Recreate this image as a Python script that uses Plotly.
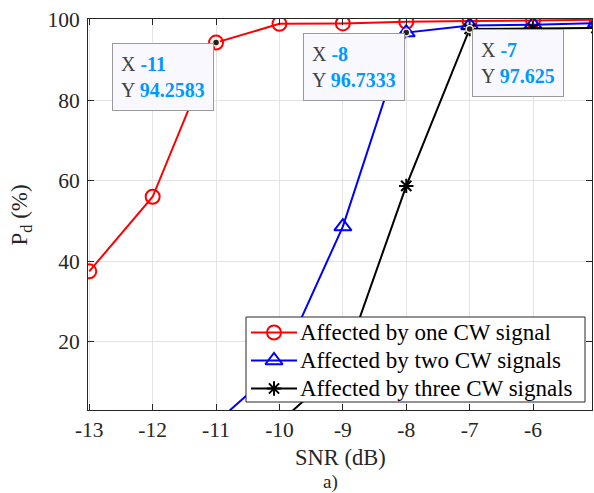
import plotly.graph_objects as go

# SNR sweep (dB) and detection probability (%) for each interference case
snr_db = [-13, -12, -11, -10, -9, -8, -7, -6, -5]
pd_one_cw = [37.5, 56.0, 94.2583, 98.9, 99.0, 99.4, 99.6, 99.7, 99.9]
pd_two_cw = [0.0, 0.0, 0.0, 13.9, 48.6, 96.7333, 98.5, 98.7, 99.1]
pd_three_cw = [0.0, 0.0, 0.0, 0.0, 14.1, 58.7, 97.625, 97.8, 97.9]

series_names = [
    "Affected by one CW signal",
    "Affected by two CW signals",
    "Affected by three CW signals",
]

x_tick_vals = [-13, -12, -11, -10, -9, -8, -7, -6]
x_tick_text = ["-13", "-12", "-11", "-10", "-9", "-8", "-7", "-6"]
y_tick_vals = [20, 40, 60, 80, 100]
y_tick_text = ["20", "40", "60", "80", "100"]

# Data tips: (series values, SNR at which the tip is pinned)
tips = [(pd_one_cw, -11), (pd_two_cw, -8), (pd_three_cw, -7)]

FONT = "Liberation Serif, Times New Roman, serif"
TIP_BLUE = "#0099FF"
TEXT = "#262626"

W, H = 594, 493
M_L, M_R, M_T, M_B = 88, 2, 19, 83
PLOT_H = H - M_T - M_B


def paper_y(px):
    """Convert a page pixel row to a paper y coordinate."""
    return (H - M_B - px) / PLOT_H


fig = go.Figure()

styles = [
    dict(color="#FF0000", symbol="circle-open", size=14),
    dict(color="#0000FF", symbol="triangle-up-open", size=15),
    dict(color="#000000", symbol="asterisk-open", size=12),
]
for name, vals, st in zip(series_names, [pd_one_cw, pd_two_cw, pd_three_cw], styles):
    fig.add_trace(go.Scatter(
        x=snr_db, y=vals, name=name, mode="lines+markers",
        line=dict(color=st["color"], width=2),
        marker=dict(symbol=st["symbol"], size=st["size"], color=st["color"],
                    line=dict(color=st["color"], width=2)),
        showlegend=False,
    ))

# Small dots marking the pinned data tips
tip_x = [sx for _, sx in tips]
tip_y = [vals[snr_db.index(sx)] for vals, sx in tips]
fig.add_trace(go.Scatter(
    x=tip_x, y=tip_y, mode="markers", showlegend=False, hoverinfo="skip",
    marker=dict(symbol="circle", size=7, color="#222222",
                line=dict(color="#F5F0D0", width=1.5)),
))

# ---- Legend box, drawn on a pixel-based overlay axis pair (x2/y2) ----
LEG_L, LEG_R, LEG_T, LEG_B = 246, 585, 317, 402
LEG_ROWS = [332.5, 360.5, 388.5]
LEG_LINE = (251, 297)
LEG_TEXT_X = 298

fig.add_trace(go.Scatter(
    x=[LEG_L, LEG_R, LEG_R, LEG_L, LEG_L], y=[LEG_T, LEG_T, LEG_B, LEG_B, LEG_T],
    xaxis="x2", yaxis="y2", mode="lines", fill="toself", fillcolor="white",
    line=dict(color=TEXT, width=1), showlegend=False, hoverinfo="skip",
))
for name, st, ry in zip(series_names, styles, LEG_ROWS):
    fig.add_trace(go.Scatter(
        x=[LEG_LINE[0], LEG_LINE[1]], y=[ry, ry], xaxis="x2", yaxis="y2",
        mode="lines", line=dict(color=st["color"], width=2),
        showlegend=False, hoverinfo="skip",
    ))
    fig.add_trace(go.Scatter(
        x=[(LEG_LINE[0] + LEG_LINE[1]) / 2], y=[ry], xaxis="x2", yaxis="y2",
        mode="markers",
        marker=dict(symbol=st["symbol"], size=st["size"], color=st["color"],
                    line=dict(color=st["color"], width=2)),
        showlegend=False, hoverinfo="skip",
    ))
    fig.add_annotation(
        x=LEG_TEXT_X, y=ry, xref="x2", yref="y2", text=name, showarrow=False,
        xanchor="left", yanchor="middle",
        font=dict(family=FONT, size=23, color="#000000"),
    )

# ---- Data tips ----
tip_layout = [
    dict(xanchor="right", yanchor="top", xshift=-2, yshift=0),
    dict(xanchor="right", yanchor="top", xshift=-1, yshift=0),
    dict(xanchor="left", yanchor="top", xshift=2, yshift=0),
]
for (vals, sx), tl in zip(tips, tip_layout):
    sy = vals[snr_db.index(sx)]
    txt = (f"X <span style='color:{TIP_BLUE}'><b>{sx:g}</b></span><br>"
           f"Y <span style='color:{TIP_BLUE}'><b>{sy:g}</b></span>")
    fig.add_annotation(
        x=sx, y=sy, xref="x", yref="y", text=txt, showarrow=False,
        align="left", valign="middle", height=50,
        font=dict(family=FONT, size=20, color="#404040"),
        bgcolor="#F8F8FE", bordercolor="#9A9A9A", borderwidth=1, borderpad=8,
        **tl,
    )

# ---- Axis titles and panel label ----
fig.add_annotation(
    text="P<sub>d</sub> (%)", xref="paper", yref="paper", x=-0.133, y=0.5,
    textangle=-90, showarrow=False, xanchor="center", yanchor="middle",
    font=dict(family=FONT, size=23, color=TEXT),
)
fig.add_annotation(
    text="SNR (dB)", xref="paper", yref="paper", x=0.5, y=paper_y(457),
    showarrow=False, xanchor="center", yanchor="middle", borderpad=0,
    font=dict(family=FONT, size=22.5, color=TEXT),
)
fig.add_annotation(
    text="a)", xref="paper", yref="paper", x=0.482, y=paper_y(482),
    showarrow=False, xanchor="center", yanchor="middle", borderpad=0,
    font=dict(family=FONT, size=19, color=TEXT),
)

axis_common = dict(
    showline=True, linecolor=TEXT, linewidth=1, mirror="ticks",
    ticks="inside", ticklen=6, tickwidth=1, tickcolor=TEXT,
    showgrid=True, gridcolor="#E3E3E3", gridwidth=1, zeroline=False,
    tickfont=dict(family=FONT, size=21.5, color=TEXT),
)

fig.update_layout(
    width=W, height=H,
    margin=dict(l=M_L, r=M_R, t=M_T, b=M_B),
    paper_bgcolor="white", plot_bgcolor="white",
    xaxis=dict(range=[-13.02, -5.07], tickvals=x_tick_vals, ticktext=x_tick_text,
               ticklabelstandoff=0, **axis_common),
    yaxis=dict(range=[3.1, 100.1], tickvals=y_tick_vals, ticktext=y_tick_text,
               ticklabelstandoff=3, **axis_common),
    # overlay axes measured in page pixels, used only for the legend
    xaxis2=dict(range=[M_L, W - M_R], overlaying="x", visible=False, fixedrange=True),
    yaxis2=dict(range=[H - M_B, M_T], overlaying="y", visible=False, fixedrange=True),
    showlegend=False,
)

fig.write_html("out.html")
